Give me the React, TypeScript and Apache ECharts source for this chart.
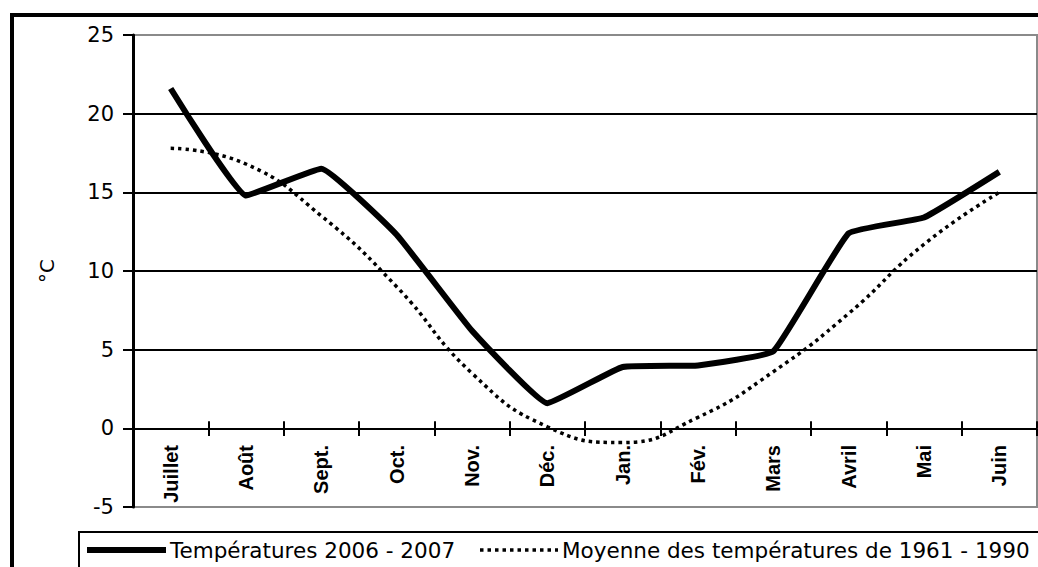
import React, { useEffect, useRef } from "react";
import * as echarts from "echarts";

const months = ["Juillet", "Août", "Sept.", "Oct.", "Nov.", "Déc.", "Jan.", "Fév.", "Mars", "Avril", "Mai", "Juin"];
const temps2006 = [21.6, 14.8, 16.5, 12.3, 6.2, 1.6, 3.9, 4.0, 4.9, 12.4, 13.4, 16.3];
const normals6190 = [17.8, 16.8, 13.5, 9.0, 3.5, 0.1, -0.9, 0.7, 3.6, 7.3, 11.7, 15.0];
const seriesNames = ["Températures 2006 - 2007", "Moyenne des températures de 1961 - 1990"];
const yMin = -5;
const yMax = 25;
const yStep = 5;

export default function App() {
  const ref = useRef<HTMLDivElement>(null);
  useEffect(() => {
    if (!ref.current) return;
    const chart = echarts.init(ref.current, null, { renderer: "svg" });
    const font = "DejaVu Sans, Arial, sans-serif";
    chart.setOption({
      animation: false,
      backgroundColor: "#ffffff",
      grid: [
        {
          left: 133,
          right: 1,
          top: 35,
          bottom: 60,
          show: true,
          borderColor: "#8a8a8a",
          borderWidth: 2,
          backgroundColor: "transparent",
          outerBoundsMode: "none",
          containLabel: false,
        },
        {
          left: 133,
          right: 1,
          top: 35,
          bottom: 138,
          show: false,
          outerBoundsMode: "none",
          containLabel: false,
        },
      ],
      xAxis: [
        {
          type: "category",
          gridIndex: 0,
          data: months,
          boundaryGap: true,
          axisLine: { onZero: true, onZeroAxisIndex: 0, lineStyle: { color: "#000", width: 2 } },
          axisTick: { show: true, inside: true, length: 7, lineStyle: { color: "#000", width: 2 } },
          axisLabel: { show: false },
          splitLine: { show: false },
        },
        {
          type: "category",
          gridIndex: 1,
          data: months,
          boundaryGap: true,
          position: "bottom",
          axisLine: { show: false, onZero: false },
          axisTick: { show: true, length: 7, lineStyle: { color: "#000", width: 2 } },
          axisLabel: {
            rotate: 90,
            margin: 16,
            color: "#000",
            fontSize: 20,
            fontWeight: "bold",
            fontFamily: "Liberation Sans, Arial, sans-serif",
          },
          splitLine: { show: false },
        },
      ],
      yAxis: [
        {
          type: "value",
          gridIndex: 0,
          min: yMin,
          max: yMax,
          interval: yStep,
          name: "°C",
          nameLocation: "middle",
          nameRotate: 90,
          nameGap: 76,
          nameTextStyle: { color: "#000", fontSize: 20, fontFamily: font },
          axisLine: { show: true, lineStyle: { color: "#000", width: 3 } },
          axisTick: { show: true, length: 10, lineStyle: { color: "#000", width: 2 } },
          axisLabel: { color: "#000", fontSize: 21, margin: 19, fontFamily: font },
          splitLine: {
            show: true,
            lineStyle: { color: ["#8a8a8a", "#000", "#000", "#000", "#000", "#000", "#8a8a8a"], width: 2 },
          },
        },
        {
          type: "value",
          gridIndex: 1,
          min: 0,
          max: yMax,
          show: false,
          splitLine: { show: false },
        },
      ],
      series: [
        {
          name: seriesNames[0],
          type: "line",
          xAxisIndex: 0,
          yAxisIndex: 0,
          data: temps2006,
          symbol: "none",
          smooth: 0.1,
          lineStyle: { color: "#000", width: 6 },
          itemStyle: { color: "#000" },
          z: 3,
        },
        {
          name: seriesNames[1],
          type: "line",
          xAxisIndex: 0,
          yAxisIndex: 0,
          data: normals6190,
          symbol: "none",
          smooth: 0.5,
          lineStyle: { color: "#000", width: 3.5, type: [3.5, 4] },
          itemStyle: { color: "#000" },
          z: 2,
        },
      ],
      graphic: [
        {
          type: "rect",
          shape: { x: 12, y: 15, width: 1200, height: 700 },
          style: { fill: "transparent", stroke: "#000", lineWidth: 4 },
          silent: true,
        },
        {
          type: "rect",
          shape: { x: 79, y: 532, width: 1100, height: 200 },
          style: { fill: "transparent", stroke: "#000", lineWidth: 2 },
          silent: true,
        },
        {
          type: "line",
          shape: { x1: 87, y1: 550, x2: 166, y2: 550 },
          style: { stroke: "#000", lineWidth: 6 },
          silent: true,
        },
        {
          type: "text",
          x: 170,
          y: 550,
          style: { text: seriesNames[0], fill: "#000", font: "21.5px DejaVu Sans, Arial, sans-serif", verticalAlign: "middle" },
          silent: true,
        },
        {
          type: "line",
          shape: { x1: 480, y1: 550, x2: 558, y2: 550 },
          style: { stroke: "#000", lineWidth: 3.5, lineDash: [3.5, 4] },
          silent: true,
        },
        {
          type: "text",
          x: 562,
          y: 550,
          style: { text: seriesNames[1], fill: "#000", font: "21.5px DejaVu Sans, Arial, sans-serif", verticalAlign: "middle" },
          silent: true,
        },
      ],
    });
    return () => chart.dispose();
  }, []);
  return (
    <div
      ref={ref}
      style={{ position: "fixed", left: 0, top: 0, width: 1038, height: 567, background: "#fff" }}
    />
  );
}
